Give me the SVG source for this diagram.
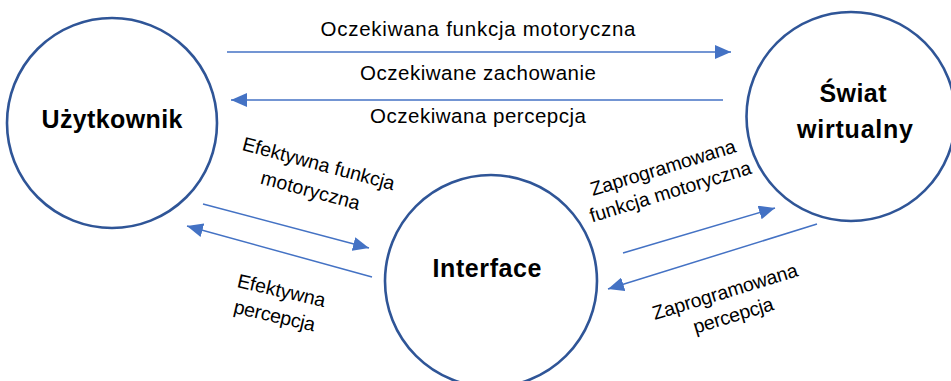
<svg xmlns="http://www.w3.org/2000/svg" width="951" height="381" viewBox="0 0 951 381">
  <style>
    .node { fill: #ffffff; stroke: #2f5597; stroke-width: 2.6; }
    .title { font-family: "Liberation Sans", Arial, sans-serif; font-weight: bold; font-size: 25px; fill: #000000; text-anchor: middle; }
    .lbl { font-family: "Liberation Sans", Arial, sans-serif; font-size: 20.5px; fill: #000000; text-anchor: middle; }
    .rl { font-family: "Liberation Sans", Arial, sans-serif; font-size: 19.5px; fill: #000000; text-anchor: middle; }
    .flow { fill: none; stroke: #4472c4; stroke-width: 1.5; marker-end: url(#head); }
  </style>
  <defs>
    <marker id="head" viewBox="0 0 16 14" refX="16" refY="7" markerWidth="16" markerHeight="14" markerUnits="userSpaceOnUse" orient="auto">
      <path d="M0,0 L16,7 L0,14 Z" fill="#4472c4"/>
    </marker>
  </defs>
  <rect width="951" height="381" fill="#ffffff"/>

  <g id="uzytkownik">
    <circle class="node" cx="112" cy="123" r="105"/>
    <text class="title" x="112" y="128" textLength="141">Użytkownik</text>
  </g>

  <g id="swiat-wirtualny">
    <circle class="node" cx="851" cy="116.5" r="104.5"/>
    <text class="title" x="853" y="102" textLength="67">Świat</text>
    <text class="title" x="855" y="138" textLength="116">wirtualny</text>
  </g>

  <g id="interface">
    <circle class="node" cx="491" cy="281" r="106"/>
    <text class="title" x="487" y="277" textLength="109">Interface</text>
  </g>

  <g id="connectors">
    <line class="flow" x1="227" y1="52" x2="731" y2="52"/>
    <line class="flow" x1="723" y1="100" x2="231" y2="100"/>
    <line class="flow" x1="203" y1="204" x2="369" y2="248"/>
    <line class="flow" x1="372" y1="277" x2="187" y2="226"/>
    <line class="flow" x1="623" y1="253" x2="775" y2="208"/>
    <line class="flow" x1="817" y1="224" x2="608" y2="289"/>
  </g>

  <g id="labels">
    <text class="lbl" x="478" y="36" textLength="315">Oczekiwana funkcja motoryczna</text>
    <text class="lbl" x="478" y="80" textLength="236">Oczekiwane zachowanie</text>
    <text class="lbl" x="478" y="123" textLength="216">Oczekiwana percepcja</text>

    <g transform="translate(317,170) rotate(15)">
      <text class="rl" x="0" y="0" textLength="157">Efektywna funkcja</text>
      <text class="rl" x="-1" y="28" textLength="102">motoryczna</text>
    </g>
    <g transform="translate(280,297) rotate(13)">
      <text class="rl" x="0" y="0" textLength="90">Efektywna</text>
      <text class="rl" x="-1" y="26" textLength="83">percepcja</text>
    </g>
    <g transform="translate(665,174) rotate(-17)">
      <text class="rl" x="0" y="0" textLength="151">Zaprogramowana</text>
      <text class="rl" x="0" y="25" textLength="168">funkcja motoryczna</text>
    </g>
    <g transform="translate(727,298) rotate(-17)">
      <text class="rl" x="0" y="0" textLength="151">Zaprogramowana</text>
      <text class="rl" x="1" y="25" textLength="83">percepcja</text>
    </g>
  </g>
</svg>
